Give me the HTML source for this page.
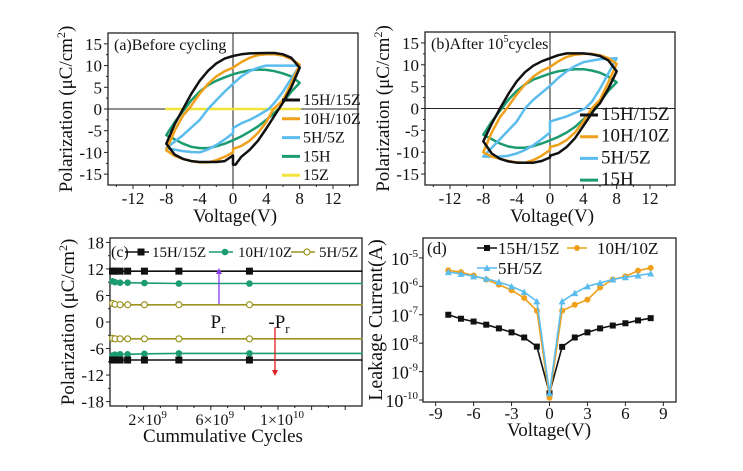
<!DOCTYPE html>
<html><head><meta charset="utf-8"><style>
body{margin:0;background:#fff;}
svg{display:block;font-family:"Liberation Serif",serif;}
</style></head><body>
<svg id="fig" width="743" height="471" viewBox="0 0 743 471"></svg>
<script>
// ---------- DATA ----------
const aBlackUp=[[-8,-8],[-7,-3.5],[-6,0],[-5,3.5],[-4,6.5],[-3,8.8],[-2,10.5],[-1,11.6],[0,12.2],[1,12.6],[2,12.8],[4,12.9],[5,12.9],[6,12.6],[7,11.8],[8,9.5]];
const aBlackDn=[[8,9.5],[7,5],[6,1.5],[5.5,0],[4,-4.5],[3,-7.3],[2,-9.4],[1,-11],[0.3,-12.8],[0,-12.8],[0,-10.7],[-1,-12],[-2,-12.2],[-4,-12.2],[-5,-12],[-6,-11.5],[-7,-10.5],[-8,-8]];
const aOrangeUp=[[-8,-9.5],[-7,-5],[-6,-1.5],[-5.3,0],[-4,3.5],[-3,5.8],[-2,7.5],[-1,8.7],[0,9.5],[1,10.8],[2,11.8],[3,12.4],[4,12.6],[5,12.6],[6,12.3],[7,11.5],[8,10.2]];
const aOrangeDn=[[8,10.2],[7,6],[6,2],[4.85,0],[4,-3],[3,-5.5],[2,-7.3],[1,-8.5],[0,-9.2],[0,-10],[-1,-11],[-2,-11.8],[-3,-12.3],[-4,-12.3],[-5,-12],[-6,-11.5],[-7,-10.8],[-8,-9.5]];
const aBlueUp=[[-8,-9],[-6,-6],[-4,-2.5],[-3,0],[-2,2],[-1,4],[0,5.8],[1,7.5],[2,8.7],[3,9.5],[4,10],[6,10],[8,10]];
const aBlueDn=[[8,10],[7,7],[6,4],[5,1.5],[4.3,0],[3,-1.5],[2,-2.5],[1,-3.3],[0,-4.4],[0,-5.6],[-1,-7],[-2,-8.3],[-3,-9.3],[-4,-10],[-5,-9.9],[-6,-9.7],[-8,-9]];
const aGreenUp=[[-8,-6],[-7,-3],[-6,-0.5],[-5,2],[-4,4],[-3,5.5],[-2,6.5],[-1,7.3],[0,8],[1,8.5],[2,8.9],[3,9.1],[4,9],[5,8.7],[6,8.2],[7,7.5],[8,6]];
const aGreenDn=[[8,6],[7,4],[6,1.5],[5.5,0],[4,-2.5],[3,-4],[2,-5.2],[1,-6.3],[0,-7.2],[-1,-8],[-2,-8.6],[-3,-9],[-4,-9],[-5,-8.7],[-6,-8],[-7,-7],[-8,-6]];
const aYellow=[[-8,0],[8,0]];
const bBlackUp=[[-8,-7.5],[-7,-3.5],[-6,0],[-5,3.3],[-4,6.2],[-3,8.3],[-2,9.8],[-1,10.8],[0,11.5],[1,12.2],[2,12.6],[4,12.6],[5,12.4],[6,12],[7,11],[8,8.5]];
const bBlackDn=[[8,8.5],[7,4.5],[6,1.2],[5.4,0],[4,-4],[3,-6.8],[2,-8.8],[1,-10.2],[0,-10.8],[0,-11.2],[-1,-12],[-2,-12.4],[-4,-12.4],[-5,-12.1],[-6,-11.5],[-7,-10.3],[-8,-7.5]];
const bOrangeUp=[[-8,-10],[-7,-5.5],[-6,-2],[-5.2,0],[-4,3.2],[-3,5.5],[-2,7.3],[-1,8.6],[0,9.5],[1,10.8],[2,11.8],[3,12.3],[4,12.5],[5,12.5],[6,12.2],[7,11.5],[8,10.2]];
const bOrangeDn=[[8,10.2],[7,6],[6,2],[5,0],[4,-3],[3,-5.5],[2,-7.2],[1,-8.3],[0,-8.8],[0,-9.5],[-1,-10.8],[-2,-11.8],[-3,-12.4],[-4,-12.3],[-5,-12],[-6,-11.5],[-7,-11],[-8,-10]];
const bBlueUp=[[-8,-11],[-6,-7],[-4,-3],[-3,0],[-2,2],[-1,3.6],[0,5.2],[1,7],[2,8.5],[3,9.7],[4,10.6],[6,11.3],[8,11.5]];
const bBlueDn=[[8,11.5],[7,8],[6,4.5],[5,1.5],[4.2,0],[3,-1],[2,-1.8],[1,-2.4],[0,-3],[0,-5.5],[-1,-7],[-2,-8.4],[-3,-9.5],[-4,-10.3],[-5,-10.8],[-6,-11],[-8,-11]];
const bGreenUp=[[-8,-6],[-7,-3],[-6,-0.5],[-5,2],[-4,4],[-3,5.5],[-2,6.6],[-1,7.3],[0,8],[1,8.5],[2,8.8],[3,9],[4,9],[5,8.7],[6,8.2],[7,7.3],[8,6]];
const bGreenDn=[[8,6],[7,4],[6,1.5],[5.5,0],[4,-2.5],[3,-4.2],[2,-5.5],[1,-6.5],[0,-7.3],[-1,-8],[-2,-8.6],[-3,-9],[-4,-9],[-5,-8.7],[-6,-8],[-7,-7],[-8,-6]];
const cCycles=[0.15e9,0.3e9,0.6e9,1.05e9,2.05e9,4.1e9,8.3e9];
const cBlackPos=[11.5,11.5,11.5,11.5,11.5,11.5,11.5];
const cGreenPos=[9.2,9.0,8.9,8.9,8.8,8.7,8.7];
const cOlivePos=[4.2,4.0,3.9,3.9,3.9,3.9,3.9];
const cOliveNeg=[-3.7,-3.8,-3.8,-3.8,-3.8,-3.8,-3.8];
const cGreenNeg=[-7.6,-7.4,-7.3,-7.3,-7.2,-7.1,-7.1];
const cBlackNeg=[-8.6,-8.6,-8.6,-8.6,-8.6,-8.6,-8.6];
const cXTickVals=[2e9,6e9,1e10];
const cXTickLabels=["2×10<tspan dy='-7' font-size='11'>9</tspan>","6×10<tspan dy='-7' font-size='11'>9</tspan>","1×10<tspan dy='-7' font-size='11'>10</tspan>"];
const cYTicks=[18,12,6,0,-6,-12,-18];
const dV=[-8,-7,-6,-5,-4,-3,-2,-1,0,1,2,3,4,5,6,7,8];
const dBlack=[-7.0,-7.14,-7.24,-7.35,-7.48,-7.62,-7.8,-8.12,-9.76,-8.13,-7.8,-7.62,-7.48,-7.38,-7.3,-7.2,-7.12];
const dOrange=[-5.44,-5.5,-5.62,-5.76,-5.94,-6.14,-6.41,-6.86,-9.92,-6.86,-6.65,-6.47,-6.04,-5.76,-5.65,-5.45,-5.35];
const dBlue=[-5.5,-5.56,-5.65,-5.73,-5.85,-6.0,-6.2,-6.53,-9.76,-6.53,-6.24,-6.0,-5.88,-5.76,-5.68,-5.62,-5.55];
const dXTicks=[-9,-6,-3,0,3,6,9];
const dYTicks=[-10,-9,-8,-7,-6,-5];
const abXTicks=[-12,-8,-4,0,4,8,12];
const abYTicks=[15,10,5,0,-5,-10,-15];

// ---------- HELPERS ----------
const svg=document.getElementById('fig');
const NS='http://www.w3.org/2000/svg';
function mk(tag,attrs,parent){const e=document.createElementNS(NS,tag);for(const k in attrs)e.setAttribute(k,attrs[k]);(parent||svg).appendChild(e);return e;}
function txt(x,y,s,size,anchor,parent){const t=mk('text',{x:x,y:y,'font-size':size,'text-anchor':anchor||'middle',fill:'#111'},parent);t.innerHTML=s;return t;}
function lin(d0,d1,r0,r1){return v=>r0+(v-d0)*(r1-r0)/(d1-d0);}
function poly(pts,sx,sy,color,w,parent){return mk('polyline',{points:pts.map(q=>sx(q[0]).toFixed(1)+','+sy(q[1]).toFixed(1)).join(' '),fill:'none',stroke:color,'stroke-width':w,'stroke-linejoin':'round','stroke-linecap':'round'},parent);}
function frame(x0,y0,x1,y1,parent){mk('rect',{x:x0,y:y0,width:x1-x0,height:y1-y0,fill:'none',stroke:'#222','stroke-width':1.3},parent);}
const BLK='#111',ORG='#f0a01a',BLU='#5bbcee',GRN='#1a9b70',YEL='#f2e33a',OLV='#9a9420',PUR='#8a3cf0',RED='#e02020';

// ---------- PANEL A / B ----------
function loopPanel(id,x0,x1,y0,y1,label,loops,legend,legX,legY0,legDy,legFont){
  const g=mk('g',{});
  
  
  const sx=lin(-15,15,x0,x1), sy=lin(17.5,-17.5,y0,y1);
  frame(x0,y0,x1,y1,g);
  mk('line',{x1:x0,x2:x1,y1:sy(0),y2:sy(0),stroke:'#222','stroke-width':1},g);
  mk('line',{x1:sx(0),x2:sx(0),y1:y0,y2:y1,stroke:'#222','stroke-width':1},g);
  for(const t of abXTicks){mk('line',{x1:sx(t),x2:sx(t),y1:y1,y2:y1+4,stroke:'#222'},g);txt(sx(t),y1+19,t,17,'middle',g);}
  for(let t=-14;t<=14;t+=2){if(t%4)mk('line',{x1:sx(t),x2:sx(t),y1:y1,y2:y1+2,stroke:'#222'},g);}
  for(const t of abYTicks){mk('line',{x1:x0-4,x2:x0,y1:sy(t),y2:sy(t),stroke:'#222'},g);txt(x0-6,sy(t)+6,t,17,'end',g);}
  for(let t=-12.5;t<=12.5;t+=5)mk('line',{x1:x0-2,x2:x0,y1:sy(t),y2:sy(t),stroke:'#222'},g);
  for(const L of loops){const p=poly(L.pts,sx,sy,L.c,2.5,g);}
  legend.forEach((L,i)=>{const y=legY0+i*legDy;mk('line',{x1:legX,x2:legX+18,y1:y,y2:y,stroke:L.c,'stroke-width':3},g);const t=txt(legX+21,y+5,L.n,legFont,'start',g);});
  const tl=txt(x0+6,y0+17,label,16,'start',g);
  const xt=txt(sx(0)+2,y1+37,'Voltage(V)',19,'middle',g);
  const cy=(y0+y1)/2, cx=x0-36;
  const yt=mk('text',{x:cx,y:cy,'font-size':19,'text-anchor':'middle',fill:'#111',transform:`rotate(-90 ${cx} ${cy})`},g);
  yt.innerHTML="Polarization (μC/cm<tspan dy='-7' font-size='12'>2</tspan><tspan dy='7'>)</tspan>";
  
}
loopPanel('panel-a',108,358,33,185,'(a)Before cycling',[
 {pts:aYellow,c:YEL,n:'loop-15z'},
 {pts:aGreenUp.concat(aGreenDn),c:GRN,n:'loop-15h'},
 {pts:aBlueUp.concat(aBlueDn),c:BLU,n:'loop-5h5z'},
 {pts:aOrangeUp.concat(aOrangeDn),c:ORG,n:'loop-10h10z'},
 {pts:aBlackUp.concat(aBlackDn),c:BLK,n:'loop-15h15z'}],
 [{n:'15H/15Z',c:BLK},{n:'10H/10Z',c:ORG},{n:'5H/5Z',c:BLU},{n:'15H',c:GRN},{n:'15Z',c:YEL}],282,100,18.8,16);
loopPanel('panel-b',425,675,32,185,'(b)After 10<tspan dy="-7" font-size="10">5</tspan><tspan dy="7">cycles</tspan>',[
 {pts:bGreenUp.concat(bGreenDn),c:GRN,n:'loop-15h'},
 {pts:bBlueUp.concat(bBlueDn),c:BLU,n:'loop-5h5z'},
 {pts:bOrangeUp.concat(bOrangeDn),c:ORG,n:'loop-10h10z'},
 {pts:bBlackUp.concat(bBlackDn),c:BLK,n:'loop-15h15z'}],
 [{n:'15H/15Z',c:BLK},{n:'10H/10Z',c:ORG},{n:'5H/5Z',c:BLU},{n:'15H',c:GRN}],580,115,21.7,19);

// ---------- PANEL C ----------
(function(){
  const g=mk('g',{});
  
  
  const x0=110,x1=362,y0=238,y1=406;
  const sx=lin(0,15e9,x0,x1), sy=lin(19,-19,y0,y1);
  frame(x0,y0,x1,y1,g);
  cXTickVals.forEach((v,i)=>{txt(sx(v)+4,y1+19,cXTickLabels[i],16,'middle',g);});
  for(let v=2e9;v<15e9;v+=2e9)mk('line',{x1:sx(v),x2:sx(v),y1:y1,y2:y1+4,stroke:'#222'},g);
  for(let v=1e9;v<15e9;v+=2e9)mk('line',{x1:sx(v),x2:sx(v),y1:y1,y2:y1+2,stroke:'#222'},g);
  for(const t of cYTicks){mk('line',{x1:x0-4,x2:x0,y1:sy(t),y2:sy(t),stroke:'#222'},g);txt(x0-6,sy(t)+6,t,17,'end',g);}
  for(let t=-15;t<=15;t+=6)mk('line',{x1:x0-2,x2:x0,y1:sy(t),y2:sy(t),stroke:'#222'},g);
  const series=[[cBlackPos,BLK,'sq','pos-15h15z'],[cGreenPos,GRN,'dot','pos-10h10z'],[cOlivePos,OLV,'open','pos-5h5z'],
                [cOliveNeg,OLV,'open','neg-5h5z'],[cGreenNeg,GRN,'dot','neg-10h10z'],[cBlackNeg,BLK,'sq','neg-15h15z']];
  for(const [vals,c,m,n] of series){
    const pts=cCycles.map((x,i)=>[x,vals[i]]);
    pts.unshift([0.02e9,vals[0]]);pts.push([15e9,vals[vals.length-1]]);
    const p=poly(pts,sx,sy,c,1.6,g);
    cCycles.forEach((x,i)=>{let e;
      if(m==='sq')e=mk('rect',{x:sx(x)-3.5,y:sy(vals[i])-3.5,width:7,height:7,fill:c},g);
      else if(m==='dot')e=mk('circle',{cx:sx(x),cy:sy(vals[i]),r:3.3,fill:c},g);
      else e=mk('circle',{cx:sx(x),cy:sy(vals[i]),r:3,fill:'#fff',stroke:c,'stroke-width':1.2},g);
      });
  }
  mk('line',{x1:219,x2:219,y1:sy(4),y2:sy(12)+4,stroke:PUR,'stroke-width':1.3},g);
  mk('polygon',{points:`216,${sy(12)+5} 222,${sy(12)+5} 219,${sy(12)-1}`,fill:PUR},g);
  mk('line',{x1:275,x2:275,y1:sy(-1.2),y2:sy(-12)-4,stroke:RED,'stroke-width':1.3},g);
  mk('polygon',{points:`272,${sy(-12)-5} 278,${sy(-12)-5} 275,${sy(-12)+1}`,fill:RED},g);
  txt(218,sy(0)+6,"P<tspan dy='5' font-size='13'>r</tspan>",19,'middle',g);
  txt(279,sy(0)+6,"-P<tspan dy='5' font-size='13'>r</tspan>",19,'middle',g);
  txt(111,257,'(c)',16,'start',g);
  const leg=[[BLK,'sq','15H/15Z',141,152],[GRN,'dot','10H/10Z',225,238],[OLV,'open','5H/5Z',307,319]];
  for(const [c,m,n,mx,tx] of leg){
    mk('line',{x1:mx-16,x2:mx+8,y1:252,y2:252,stroke:c,'stroke-width':1.6},g);
    if(m==='sq')mk('rect',{x:mx-3.5,y:248.5,width:7,height:7,fill:c},g);
    else if(m==='dot')mk('circle',{cx:mx,cy:252,r:3.3,fill:c},g);
    else mk('circle',{cx:mx,cy:252,r:3,fill:'#fff',stroke:c,'stroke-width':1.2},g);
    const t=txt(tx,257,n,15,'start',g);
  }
  const xt=txt(223,442,'Cummulative Cycles',19,'middle',g);
  const cx=74,cy=322;
  const yt=mk('text',{x:cx,y:cy,'font-size':19,'text-anchor':'middle',fill:'#111',transform:`rotate(-90 ${cx} ${cy})`},g);
  yt.innerHTML="Polarization (μC/cm<tspan dy='-7' font-size='12'>2</tspan><tspan dy='7'>)</tspan>";
  
})();

// ---------- PANEL D ----------
(function(){
  const g=mk('g',{});
  
  
  const x0=423,x1=676,y0=238,y1=402;
  const sx=lin(-10,10,x0,x1), sy=lin(-4.3,-10.07,y0,y1);
  frame(x0,y0,x1,y1,g);
  for(const t of dXTicks){mk('line',{x1:sx(t),x2:sx(t),y1:y1,y2:y1+4,stroke:'#222'},g);txt(sx(t),y1+17,t,17,'middle',g);}
  for(const t of dYTicks){mk('line',{x1:x0-4,x2:x0,y1:sy(t),y2:sy(t),stroke:'#222'},g);
    txt(x0-5,sy(t)+7,"10<tspan dy='-8' font-size='11'>"+t+"</tspan>",18,'end',g);}
  const series=[[dBlack,BLK,'sq','leak-15h15z'],[dOrange,ORG,'dot','leak-10h10z'],[dBlue,BLU,'tri','leak-5h5z']];
  for(const [vals,c,m,n] of series){
    const p=poly(dV.map((v,i)=>[v,vals[i]]),sx,sy,c,1.6,g);
    dV.forEach((v,i)=>{const X=sx(v),Y=sy(vals[i]);let e;
      if(m==='sq')e=mk('rect',{x:X-3,y:Y-3,width:6,height:6,fill:c},g);
      else if(m==='dot')e=mk('circle',{cx:X,cy:Y,r:3,fill:c},g);
      else e=mk('polygon',{points:`${X-3.5},${Y+3} ${X+3.5},${Y+3} ${X},${Y-3.5}`,fill:c},g);
      });
  }
  txt(427,254,'(d)',17,'start',g);
  const leg=[[BLK,'sq','15H/15Z',477,498,248],[ORG,'dot','10H/10Z',567,597,248],[BLU,'tri','5H/5Z',477,498,268]];
  for(const [c,m,n,lx,tx,y] of leg){
    mk('line',{x1:lx,x2:lx+20,y1:y,y2:y,stroke:c,'stroke-width':1.6},g);
    const X=lx+10;
    if(m==='sq')mk('rect',{x:X-3,y:y-3,width:6,height:6,fill:c},g);
    else if(m==='dot')mk('circle',{cx:X,cy:y,r:3,fill:c},g);
    else mk('polygon',{points:`${X-3.5},${y+3} ${X+3.5},${y+3} ${X},${y-3.5}`,fill:c},g);
    const t=txt(tx,y+6,n,17,'start',g);
  }
  const xt=txt(549,436,'Voltage(V)',19,'middle',g);
  const cx=382,cy=320;
  const yt=mk('text',{x:cx,y:cy,'font-size':20,'text-anchor':'middle',fill:'#111',transform:`rotate(-90 ${cx} ${cy})`},g);
  yt.textContent='Leakage Current(A)';
  
})();
</script>
</body></html>
